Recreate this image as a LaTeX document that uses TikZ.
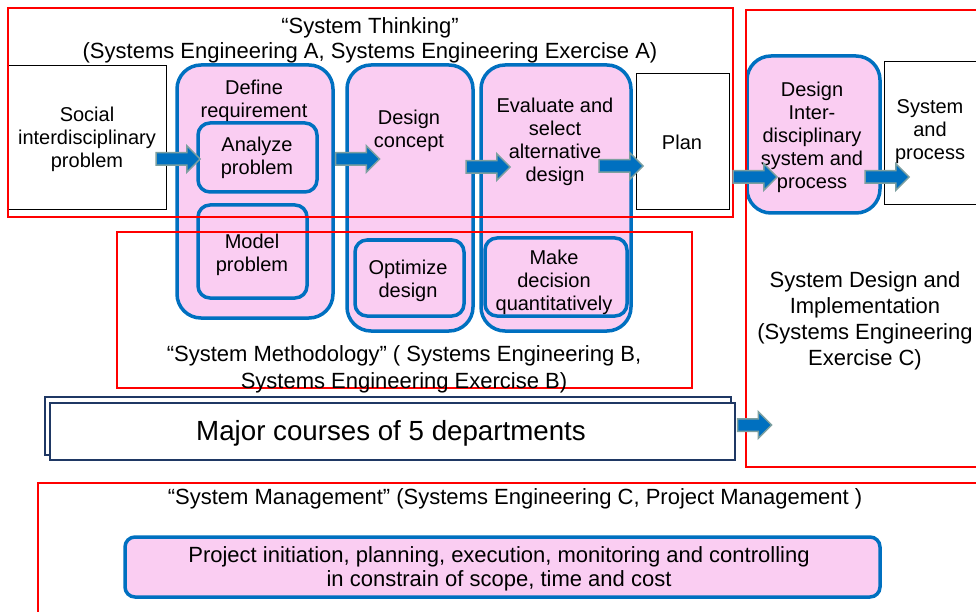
\documentclass[tikz,border=0pt]{standalone}
\usepackage{fontspec}
\setmainfont{Liberation Sans}
\usepackage{tikz}
\usetikzlibrary{shapes.arrows}
\definecolor{framered}{RGB}{255,0,0}
\definecolor{edgeblue}{RGB}{0,112,192}
\definecolor{softpink}{RGB}{250,205,242}
\definecolor{arrowgray}{RGB}{125,160,160}
\definecolor{navyline}{RGB}{31,56,100}
\tikzstyle{frame} = [rectangle, draw=framered, line width=2.5pt, inner sep=0pt]
\tikzstyle{stage} = [rectangle, rounded corners=24pt, draw=edgeblue, fill=softpink, line width=3.5pt, inner sep=0pt]
\tikzstyle{substage} = [rectangle, rounded corners=12pt, draw=edgeblue, fill=softpink, line width=3.5pt, inner sep=0pt]
\tikzstyle{plain} = [rectangle, draw=black, fill=white, line width=0.8pt, inner sep=0pt]
\tikzstyle{course} = [rectangle, draw=navyline, fill=white, line width=2pt, inner sep=0pt]
\tikzstyle{label} = [align=center, inner sep=0pt, font=\fontsize{20}{23}\selectfont]
\tikzstyle{biglabel} = [align=center, inner sep=0pt, font=\fontsize{22}{25}\selectfont]
\tikzstyle{flow} = [single arrow, draw=arrowgray, fill=edgeblue, line width=1.5pt, inner xsep=0pt, inner ysep=5.5pt, minimum height=44pt, single arrow head extend=7pt, single arrow head indent=0pt]

\begin{document}
\begin{tikzpicture}[x=1pt, y=-1pt]
        \useasboundingbox (0,0) rectangle (976,612);
        % process boxes
        \node (social) [plain, minimum width=158pt, minimum height=144pt] at (87,137) {};
        \node (defreq) [stage, minimum width=156pt, minimum height=253pt] at (255,191.5) {};
        \node (analyze) [substage, minimum width=119pt, minimum height=69pt] at (257.5,157.5) {};
        \node (model) [substage, minimum width=109pt, minimum height=93pt] at (252.5,251.5) {};
        \node (concept) [stage, minimum width=126pt, minimum height=266pt] at (410,198) {};
        \node (optimize) [substage, minimum width=109pt, minimum height=76pt] at (409.5,278) {};
        \node (evaluate) [stage, minimum width=150pt, minimum height=266pt] at (556,198) {};
        \node (decide) [substage, minimum width=142pt, minimum height=78pt] at (556,277) {};
        \node (plan) [plain, minimum width=93pt, minimum height=136pt] at (682.5,141) {};
        \node (interdis) [stage, minimum width=133pt, minimum height=157pt] at (813.5,134.5) {};
        \node (sysproc) [plain, minimum width=101pt, minimum height=143pt] at (934.5,132.5) {};
        \node (majorback) [course, minimum width=686pt, minimum height=58pt] at (388,426) {};
        \node (major) [course, minimum width=685pt, minimum height=57pt] at (392.5,431.5) {};
        \node (project) [substage, rounded corners=10pt, minimum width=755pt, minimum height=60pt] at (502.5,567) {};

        % texts
        \node (socialtxt) [label] at (87,139) {Social\\interdisciplinary\\problem};
        \node (defreqtxt) [label] at (254,101) {Define\\requirement};
        \node (analyzetxt) [label] at (257,158) {Analyze\\problem};
        \node (modeltxt) [label] at (252,255) {Model\\problem};
        \node (concepttxt) [label] at (409,131) {Design\\concept};
        \node (optimizetxt) [label] at (408,281) {Optimize\\design};
        \node (evaluatetxt) [label] at (555,142) {Evaluate and\\select\\alternative\\design};
        \node (decidetxt) [label] at (554,282) {Make\\decision\\quantitatively};
        \node (plantxt) [label] at (682,142) {Plan};
        \node (interdistxt) [label] at (812,137) {Design\\Inter-\\disciplinary\\system and\\process};
        \node (sysproctxt) [label] at (930,132) {System\\and\\process};
        \node (majortxt) [label, font=\fontsize{27.7}{30}\selectfont] at (391,433) {Major courses of 5 departments};
        \node (projecttxt) [biglabel, font=\fontsize{22}{24}\selectfont] at (499,569) {Project initiation, planning, execution, monitoring and controlling\\in constrain of scope, time and cost};

        % red frames
        \node (thinking) [frame, minimum width=725pt, minimum height=209pt] at (370.5,112.5) {};
        \node (method) [frame, minimum width=575pt, minimum height=156pt] at (404.5,310) {};
        \node (implement) [frame, minimum width=240pt, minimum height=457pt] at (866,238.5) {};
        \node (manage) [frame, minimum width=950pt, minimum height=140pt] at (513,553) {};
        \node (thinkingtxt) [biglabel] at (370,40) {“System Thinking”\\(Systems Engineering A, Systems Engineering Exercise A)};
        \node (methodtxt) [biglabel, font=\fontsize{22}{27}\selectfont] at (404,369) {“System Methodology” ( Systems Engineering B,\\Systems Engineering Exercise B)};
        \node (implementtxt) [biglabel, font=\fontsize{22}{26}\selectfont] at (865,321) {System Design and\\Implementation\\(Systems Engineering\\Exercise C)};
        \node (managetxt) [biglabel] at (515,499) {“System Management” (Systems Engineering C, Project Management )};

        % block arrows
        \node (toanalyze) [flow] at (175,159) {};
        \node (toconcept) [flow] at (354.5,159) {};
        \node (toevaluate) [flow] at (485,167) {};
        \node (toplan) [flow] at (618,166) {};
        \node (tointerdis) [flow] at (752,177) {};
        \node (tosysproc) [flow] at (884,177) {};
        \node (toimplement) [flow, minimum height=34pt] at (751.5,425) {};
\end{tikzpicture}
\end{document}
